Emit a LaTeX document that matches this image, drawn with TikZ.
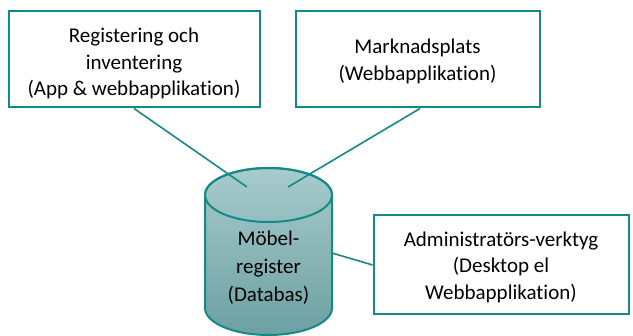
\documentclass[tikz,border=0pt]{standalone}
\usepackage{fontspec}
\setmainfont{Carlito}[Ligatures=NoCommon]
\definecolor{tealline}{RGB}{20,138,134}
\definecolor{cyltop}{RGB}{168,203,204}
\definecolor{cylbot}{RGB}{108,160,162}
% lowers the text block of a box by half of the given extra height
\newcommand{\boxdrop}[1]{\rule{0pt}{#1}}
\begin{document}
\begin{tikzpicture}[x=1pt,y=-1pt,
  appbox/.style={draw=tealline, line width=2pt, fill=white, align=center,
    inner sep=0pt, font=\fontsize{21}{26.5}\selectfont},
  link/.style={draw=tealline, line width=1.6pt},
  dblabel/.style={align=center, inner sep=0pt, font=\fontsize{21}{28}\selectfont}]
  \useasboundingbox (0,0) rectangle (633,336);

  % application boxes
  \node[appbox, minimum width=251pt, minimum height=96pt] (reg) at (134,59.5)
    {\boxdrop{23pt}Registering och\\inventering\\(App \& webbapplikation)};
  \node[appbox, minimum width=244pt, minimum height=96pt] (market) at (417.5,59.5)
    {\boxdrop{18pt}Marknadsplats\\(Webbapplikation)};
  \node[appbox, minimum width=255pt, minimum height=99pt] (admin) at (501,265)
    {\boxdrop{19pt}Administratörs-verktyg\\(Desktop el\\Webbapplikation)};

  % database cylinder
  \path[top color=cyltop, bottom color=cylbot, draw=tealline, line width=2pt]
    (205,195) -- (205,308)
    arc[start angle=180, end angle=0, x radius=63.5, y radius=27]
    -- (332,195)
    arc[start angle=0, end angle=-180, x radius=63.5, y radius=27] -- cycle;
  \draw[tealline, line width=2pt] (268.5,195) ellipse[x radius=63.5, y radius=27];
  \node[dblabel] (db) at (268.5,268) {Möbel-\\register\\(Databas)};

  % attachment points on the cylinder
  \coordinate (dbA) at (247,187);
  \coordinate (dbB) at (288,187);
  \coordinate (dbR) at (332,253);

  % connectors
  \draw[link] (reg.south) -- (dbA);
  \draw[link] ([xshift=2.5pt]market.south) -- (dbB);
  \draw[link] (dbR) -- (admin.west);
\end{tikzpicture}
\end{document}
